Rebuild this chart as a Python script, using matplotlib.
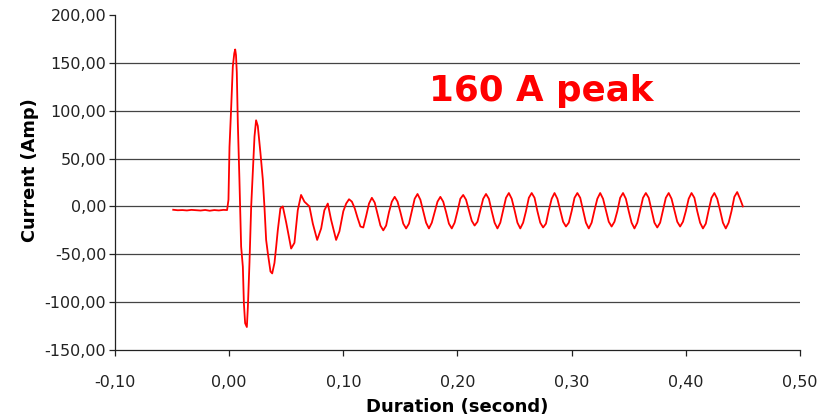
import numpy as np
import matplotlib
matplotlib.use("Agg")
import matplotlib.pyplot as plt
from matplotlib.ticker import FuncFormatter

# transient part
t_start = [-0.049, -0.045, -0.041, -0.037, -0.033, -0.029, -0.025, -0.021, -0.017, -0.013,
           -0.009, -0.005, -0.0018, -0.0006, 0.0003, 0.0018, 0.0032, 0.0045, 0.0053, 0.0060,
           0.0067, 0.0076, 0.0090, 0.0105, 0.0120, 0.0129, 0.0140, 0.0155, 0.0164, 0.0178,
           0.0193, 0.0207, 0.0222, 0.0236, 0.0251, 0.0274, 0.0295, 0.0309, 0.0324, 0.0339,
           0.0362, 0.0377, 0.0397, 0.0412, 0.0426, 0.0449, 0.0470, 0.0500, 0.0543, 0.0572,
           0.0601, 0.0630, 0.0659, 0.0703, 0.0733, 0.0771, 0.0806, 0.0834, 0.0864, 0.0893,
           0.0937, 0.0966]
i_start = [-3.5, -4, -3.8, -4.2, -3.6, -4, -4.3, -3.7, -4.5, -3.8,
           -4.2, -3.6, -3.8, 7, 62, 104, 146, 160, 164, 158,
           140, 87, 28, -42, -63, -101, -122, -126, -105, -59,
           0, 35, 73, 90, 84, 56, 28, 0, -35, -49,
           -68, -70, -59, -42, -25, -2, 0, -17, -44, -38,
           -4, 12, 5, 0, -18, -35, -23, -4, 3, -14,
           -35, -26]

# steady part, sampled every 2.5 ms from 0.100 s
steady_t0 = 0.100
steady_dt = 0.0025
i_steady = [
    -5, 3, 7.5, 5, -2, -12, -21, -22,
    -10, 3, 9, 4, -8, -20, -25, -20,
    -6, 5, 10, 5, -6, -18, -23, -18,
    -5, 8, 13, 7, -5, -17, -23, -17,
    -6, 5, 10, 5, -6, -18, -23, -17,
    -5, 8, 12, 7, -4, -15, -20, -16,
    -4, 8, 13, 8, -5, -17, -23, -17,
    -4, 9, 14, 8, -4, -17, -23, -17,
    -5, 9, 14, 9, -5, -17, -22, -18,
    -4, 8, 14, 8, -4, -16, -21, -17,
    -5, 9, 14, 9, -4, -17, -23, -17,
    -4, 8, 14, 8, -4, -16, -21, -16,
    -5, 9, 14, 8, -5, -17, -23, -17,
    -4, 9, 14, 9, -4, -17, -22, -17,
    -4, 9, 14, 8, -4, -16, -21, -16,
    -5, 8, 14, 9, -5, -17, -23, -18,
    -4, 9, 14, 8, -4, -17, -23, -17,
    -5, 10, 15, 8, 0,
]

x_ticks = [-0.10, 0.00, 0.10, 0.20, 0.30, 0.40, 0.50]
y_ticks = [-150, -100, -50, 0, 50, 100, 150, 200]

t_steady = steady_t0 + steady_dt * np.arange(len(i_steady))
t = np.concatenate([t_start, t_steady])
cur = np.concatenate([i_start, i_steady])

fig = plt.figure(figsize=(8.29, 4.19), dpi=100)
ax = fig.add_axes([0.1387, 0.1647, 0.8263, 0.7995])

ax.plot(t, cur, color="#ff0000", lw=1.3)

ax.set_xlim(-0.10, 0.50)
ax.set_ylim(-150, 200)
ax.set_xticks(x_ticks)
ax.set_yticks(y_ticks)

comma = FuncFormatter(lambda v, p: f"{v:.2f}".replace(".", ","))
ax.xaxis.set_major_formatter(comma)
ax.yaxis.set_major_formatter(comma)

# grid lines between the bottom axis and the top (none at 200)
ax.yaxis.grid(True, color="#444444", lw=0.9)
ax.get_ygridlines()[-1].set_visible(False)
ax.get_ygridlines()[0].set_visible(False)

for s in ["top", "right"]:
    ax.spines[s].set_visible(False)
for s in ["left", "bottom"]:
    ax.spines[s].set_color("#222222")
    ax.spines[s].set_linewidth(0.9)

ax.tick_params(axis="y", direction="out", length=4.3, width=0.9, pad=2, labelsize=11.5, colors="#222222")
ax.tick_params(axis="x", direction="out", length=4, width=0.9, pad=14, labelsize=11.5, colors="#222222")

fig.text(30 / 829, 1 - 170 / 419, "Current (Amp)", rotation=90, ha="center", va="center",
         fontsize=12.8, fontweight="bold")
fig.text(457 / 829, 1 - 407 / 419, "Duration (second)", ha="center", va="center",
         fontsize=13, fontweight="bold")

ax.text(0.458, 0.743, "160 A peak", transform=ax.transAxes, color="#ff0000",
        fontsize=25.7, fontweight="bold", ha="left", va="baseline")

fig.savefig("out.png", dpi=100)
